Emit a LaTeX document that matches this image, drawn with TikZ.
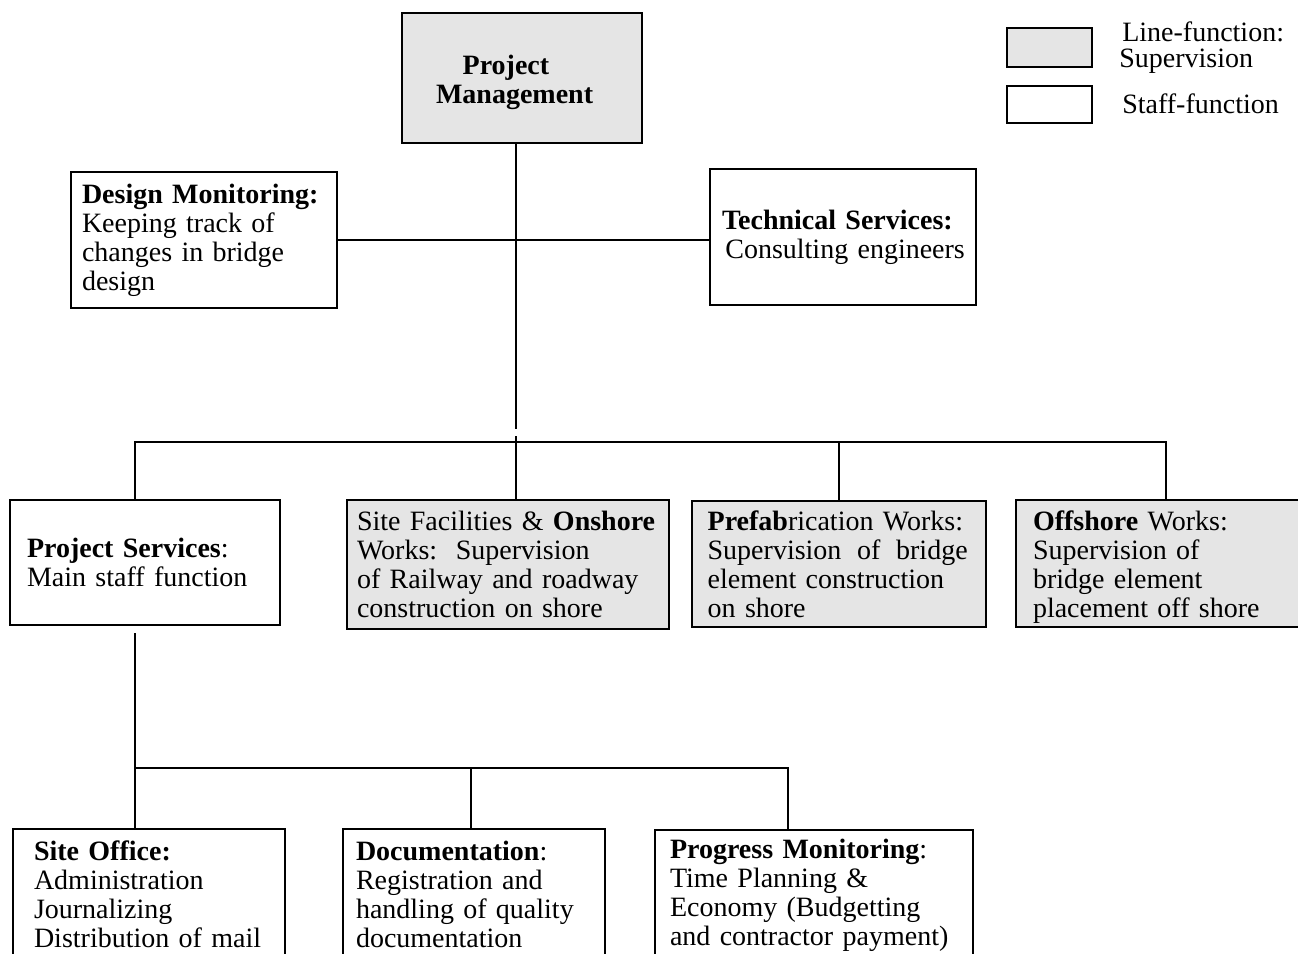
\documentclass[tikz,border=0pt]{standalone}
\usepackage{fontspec}
\setmainfont{Liberation Serif}
\begin{document}
\begin{tikzpicture}[x=0.75pt,y=-0.75pt,
  font=\fontsize{21}{21.75}\selectfont,
  box/.style={draw, line width=1.8pt, align=left, inner xsep=0pt, inner ysep=0pt},
  shaded/.style={box, fill=black!10},
  legtext/.style={anchor=base west, inner sep=0pt},
  conn/.style={line width=1.4pt}]
\useasboundingbox (0,0) rectangle (1298,953);

% boxes
\node[shaded, minimum width=180pt, minimum height=97.5pt, text width=129pt] (pm) at (522,78)
  {\rule{0pt}{21pt}\mbox{\textbf{\hspace*{20pt}Project}}\\\mbox{\textbf{Management}}};

\node[shaded, minimum width=63.75pt, minimum height=29.25pt] (lgline) at (1049.5,47.5) {};
\node[box, minimum width=63.75pt, minimum height=27.75pt] (lgstaff) at (1049.5,104.5) {};
\node[legtext] (lgt1) at (1122,41) {Line-function:};
\node[legtext] (lgt2) at (1119,67) {Supervision};
\node[legtext] (lgt3) at (1122,113) {Staff-function};

\node[box, minimum width=199.5pt, minimum height=102pt, text width=183pt] (dm) at (204,240)
  {\mbox{\textbf{Design Monitoring:}}\\\mbox{Keeping track of}\\\mbox{changes in bridge}\\\mbox{design}};
\node[box, minimum width=199.5pt, minimum height=102pt, text width=181.5pt] (ts) at (843,237)
  {\mbox{\textbf{Technical Services:}}\\\mbox{\hspace*{2.5pt}Consulting engineers}};

\node[box, minimum width=202.5pt, minimum height=93.75pt, text width=177pt] (ps) at (145,562.5)
  {\mbox{\textbf{Project Services}:}\\\mbox{Main staff function}};
\node[shaded, minimum width=241.5pt, minimum height=96.75pt, text width=226.5pt] (sf) at (508,564.5)
  {\mbox{Site Facilities \& \textbf{Onshore}}\\\mbox{Works:\ \ Supervision}\\\mbox{of Railway and roadway}\\\mbox{construction on shore}};
\node[shaded, minimum width=220.5pt, minimum height=94.5pt, text width=197pt] (pf) at (839,564)
  {\mbox{\textbf{Prefab}rication Works:}\\\makebox[195pt][l]{Supervision\hfill of\hfill bridge}\\\mbox{element construction}\\\mbox{on shore}};
\node[shaded, minimum width=225pt, minimum height=95.25pt, text width=199.5pt] (os) at (1166,563.5)
  {\rule{0pt}{20pt}\mbox{\textbf{Offshore} Works:}\\\mbox{Supervision of}\\\mbox{bridge element}\\\mbox{placement off shore}};

\node[box, minimum width=204pt, minimum height=97.5pt, text width=172.5pt] (so) at (149,894)
  {\mbox{\textbf{Site Office:}}\\\mbox{Administration}\\\mbox{Journalizing}\\\mbox{Distribution of mail}};
\node[box, minimum width=196.5pt, minimum height=97.5pt, text width=177pt] (doc) at (474,894)
  {\mbox{\textbf{Documentation}:}\\\mbox{Registration and}\\\mbox{handling of quality}\\\mbox{documentation}};
\node[box, minimum width=238.5pt, minimum height=97.5pt, text width=216pt] (pmon) at (814,895)
  {\mbox{\textbf{Progress Monitoring}:}\\\mbox{Time Planning \&}\\\mbox{Economy (Budgetting}\\\mbox{and contractor payment)}};

% connectors
\coordinate (trunkEnd) at (516,429);
\coordinate (trunkResume) at (516,436);
\coordinate (busL) at (135,442);
\coordinate (busR) at (1166,442);
\draw[conn] (pm.south -| trunkEnd) -- (trunkEnd);
\draw[conn] (trunkResume) -- (trunkResume |- sf.north);
\draw[conn] (dm.east) -- (dm.east -| ts.west);
\draw[conn] (busL |- ps.north) -- (busL) -- (busR) -- (os.north);
\draw[conn] (pf.north |- busL) -- (pf.north);

\coordinate (psOut) at (135,633);
\coordinate (bus2L) at (135,768);
\coordinate (bus2R) at (788,768);
\coordinate (docDrop) at (471,768);
\draw[conn] (psOut) -- (bus2L |- so.north);
\draw[conn] (bus2L) -- (bus2R) -- (bus2R |- pmon.north);
\draw[conn] (docDrop) -- (docDrop |- doc.north);
\end{tikzpicture}
\end{document}
